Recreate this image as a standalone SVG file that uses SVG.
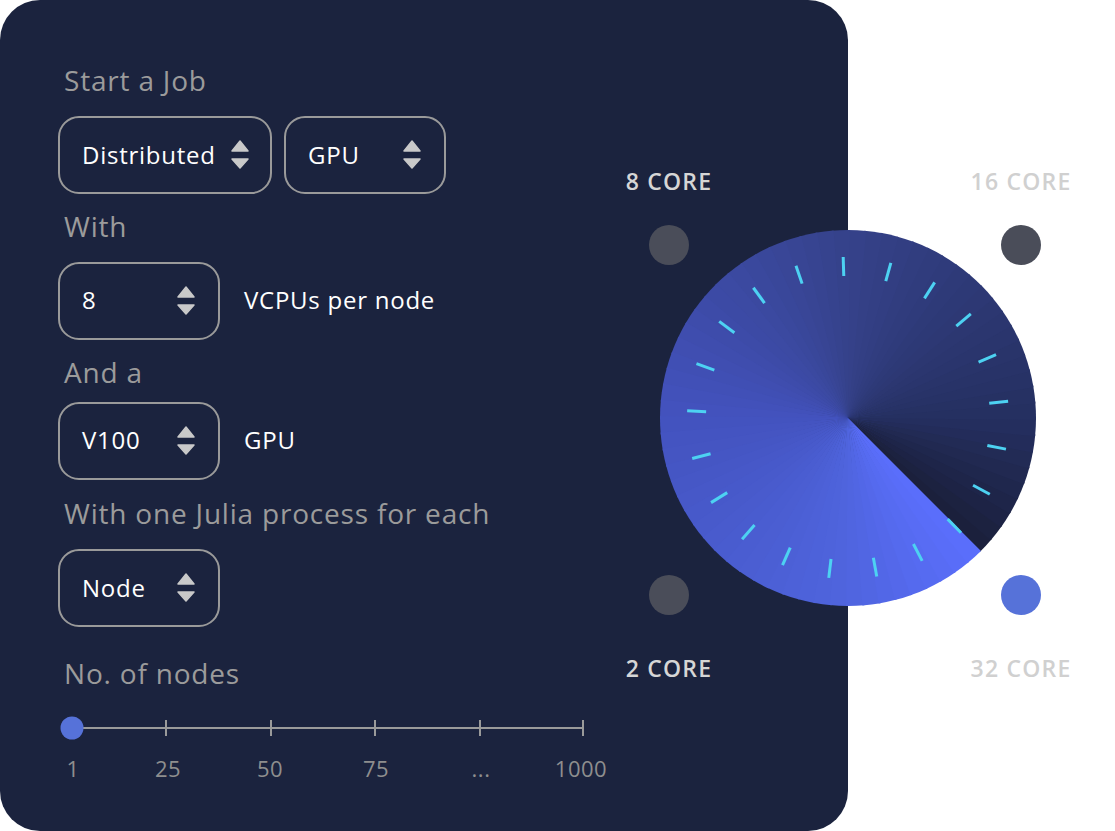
<svg xmlns="http://www.w3.org/2000/svg" xmlns:xlink="http://www.w3.org/1999/xlink" width="1115" height="831" viewBox="0 0 1115 831">
<style>
  .lbl { font-family: "Open Sans", "Noto Sans", sans-serif; font-size: 28px; fill: #9b9b9b; letter-spacing: 0.8px; }
  .val { font-family: "Open Sans", "Noto Sans", sans-serif; font-size: 24px; fill: #ffffff; letter-spacing: 0.75px; }
  .box { fill: none; stroke: #9a9a9a; stroke-width: 2; }
  .arr { fill: #c9c9c9; stroke: #c9c9c9; stroke-width: 1.5; stroke-linejoin: round; }
  .core { font-family: "Open Sans", "Noto Sans", sans-serif; font-size: 23px; font-weight: 600; text-anchor: middle; letter-spacing: 1.2px; }
  .num { font-family: "Open Sans", "Noto Sans", sans-serif; font-size: 22px; fill: #8e8e8e; text-anchor: middle; letter-spacing: 0.5px; }
  .tk { stroke: #9a9a9a; stroke-width: 2; }
</style>
<defs>
  <path id="w" d="M848 418 L1036 418 A188 188 0 0 1 1035.10 436.35 Z"/>
  <line id="tick" x1="990" y1="418" x2="1009" y2="418" stroke="#4dd2f2" stroke-width="3"/>
  <g id="spin">
    <path class="arr" d="M-8 -4 L8 -4 L0 -14 Z"/>
    <path class="arr" d="M-8 4 L8 4 L0 13 Z"/>
  </g>
</defs>
<rect x="0" y="0" width="1115" height="831" fill="#ffffff"/>
<g id="panel">
  <rect x="0" y="0" width="848" height="831" rx="40" ry="40" fill="#1b233e"/>
</g>

<g id="label-start"><text class="lbl" x="64" y="91">Start a Job</text></g>
<g id="select-mode">
  <rect class="box" x="59" y="117" width="212" height="76" rx="20"/>
  <text class="val" x="82" y="164">Distributed</text>
  <use xlink:href="#spin" transform="translate(240 155)"/>
</g>
<g id="select-type">
  <rect class="box" x="285" y="117" width="160" height="76" rx="20"/>
  <text class="val" x="308" y="164">GPU</text>
  <use xlink:href="#spin" transform="translate(412 155)"/>
</g>
<g id="label-with"><text class="lbl" x="64" y="237">With</text></g>
<g id="select-vcpu">
  <rect class="box" x="59" y="263" width="160" height="76" rx="20"/>
  <text class="val" x="82" y="309">8</text>
  <use xlink:href="#spin" transform="translate(186 301)"/>
  <text class="val" x="244" y="309">VCPUs per node</text>
</g>
<g id="label-and"><text class="lbl" x="64" y="383">And a</text></g>
<g id="select-gpu">
  <rect class="box" x="59" y="403" width="160" height="76" rx="20"/>
  <text class="val" x="82" y="449">V100</text>
  <use xlink:href="#spin" transform="translate(186 441)"/>
  <text class="val" x="244" y="449">GPU</text>
</g>
<g id="label-process"><text class="lbl" x="64" y="524">With one Julia process for each</text></g>
<g id="select-process">
  <rect class="box" x="59" y="550" width="160" height="76" rx="20"/>
  <text class="val" x="82" y="597">Node</text>
  <use xlink:href="#spin" transform="translate(186 588)"/>
</g>
<g id="label-nodes"><text class="lbl" x="64" y="684">No. of nodes</text></g>
<g id="slider">
  <line class="tk" x1="72" y1="728" x2="583" y2="728"/>
  <line class="tk" x1="166" y1="720" x2="166" y2="736"/>
  <line class="tk" x1="271" y1="720" x2="271" y2="736"/>
  <line class="tk" x1="375" y1="720" x2="375" y2="736"/>
  <line class="tk" x1="480" y1="720" x2="480" y2="736"/>
  <line class="tk" x1="583" y1="720" x2="583" y2="736"/>
  <circle cx="72" cy="728" r="11.5" fill="#5672d9"/>
  <text class="num" x="73" y="777">1</text>
  <text class="num" x="168" y="777">25</text>
  <text class="num" x="270" y="777">50</text>
  <text class="num" x="376" y="777">75</text>
  <text class="num" x="481" y="777">...</text>
  <text class="num" x="581" y="777">1000</text>
</g>

<g id="dial">
  <circle cx="848" cy="418" r="186" fill="rgb(52,64,135)"/>
  <use xlink:href="#w" fill="rgb(27,32,60)" transform="rotate(400 848 418)"/>
  <use xlink:href="#w" fill="rgb(28,34,64)" transform="rotate(395 848 418)"/>
  <use xlink:href="#w" fill="rgb(29,35,69)" transform="rotate(390 848 418)"/>
  <use xlink:href="#w" fill="rgb(30,37,73)" transform="rotate(385 848 418)"/>
  <use xlink:href="#w" fill="rgb(31,39,77)" transform="rotate(380 848 418)"/>
  <use xlink:href="#w" fill="rgb(33,41,81)" transform="rotate(375 848 418)"/>
  <use xlink:href="#w" fill="rgb(34,43,85)" transform="rotate(370 848 418)"/>
  <use xlink:href="#w" fill="rgb(35,44,90)" transform="rotate(365 848 418)"/>
  <use xlink:href="#w" fill="rgb(36,46,94)" transform="rotate(360 848 418)"/>
  <use xlink:href="#w" fill="rgb(37,48,97)" transform="rotate(355 848 418)"/>
  <use xlink:href="#w" fill="rgb(38,49,99)" transform="rotate(350 848 418)"/>
  <use xlink:href="#w" fill="rgb(39,50,102)" transform="rotate(345 848 418)"/>
  <use xlink:href="#w" fill="rgb(40,51,104)" transform="rotate(340 848 418)"/>
  <use xlink:href="#w" fill="rgb(41,52,106)" transform="rotate(335 848 418)"/>
  <use xlink:href="#w" fill="rgb(42,53,109)" transform="rotate(330 848 418)"/>
  <use xlink:href="#w" fill="rgb(43,54,111)" transform="rotate(325 848 418)"/>
  <use xlink:href="#w" fill="rgb(44,55,113)" transform="rotate(320 848 418)"/>
  <use xlink:href="#w" fill="rgb(45,56,116)" transform="rotate(315 848 418)"/>
  <use xlink:href="#w" fill="rgb(45,57,118)" transform="rotate(310 848 418)"/>
  <use xlink:href="#w" fill="rgb(46,58,120)" transform="rotate(305 848 418)"/>
  <use xlink:href="#w" fill="rgb(47,59,123)" transform="rotate(300 848 418)"/>
  <use xlink:href="#w" fill="rgb(48,60,125)" transform="rotate(295 848 418)"/>
  <use xlink:href="#w" fill="rgb(49,61,127)" transform="rotate(290 848 418)"/>
  <use xlink:href="#w" fill="rgb(50,62,130)" transform="rotate(285 848 418)"/>
  <use xlink:href="#w" fill="rgb(51,63,132)" transform="rotate(280 848 418)"/>
  <use xlink:href="#w" fill="rgb(52,64,134)" transform="rotate(275 848 418)"/>
  <use xlink:href="#w" fill="rgb(53,65,137)" transform="rotate(270 848 418)"/>
  <use xlink:href="#w" fill="rgb(53,66,139)" transform="rotate(265 848 418)"/>
  <use xlink:href="#w" fill="rgb(54,67,142)" transform="rotate(260 848 418)"/>
  <use xlink:href="#w" fill="rgb(55,68,145)" transform="rotate(255 848 418)"/>
  <use xlink:href="#w" fill="rgb(56,69,148)" transform="rotate(250 848 418)"/>
  <use xlink:href="#w" fill="rgb(57,70,151)" transform="rotate(245 848 418)"/>
  <use xlink:href="#w" fill="rgb(57,71,154)" transform="rotate(240 848 418)"/>
  <use xlink:href="#w" fill="rgb(58,72,157)" transform="rotate(235 848 418)"/>
  <use xlink:href="#w" fill="rgb(59,73,160)" transform="rotate(230 848 418)"/>
  <use xlink:href="#w" fill="rgb(60,74,163)" transform="rotate(225 848 418)"/>
  <use xlink:href="#w" fill="rgb(60,74,165)" transform="rotate(220 848 418)"/>
  <use xlink:href="#w" fill="rgb(61,75,168)" transform="rotate(215 848 418)"/>
  <use xlink:href="#w" fill="rgb(62,76,171)" transform="rotate(210 848 418)"/>
  <use xlink:href="#w" fill="rgb(63,77,174)" transform="rotate(205 848 418)"/>
  <use xlink:href="#w" fill="rgb(64,78,177)" transform="rotate(200 848 418)"/>
  <use xlink:href="#w" fill="rgb(64,79,180)" transform="rotate(195 848 418)"/>
  <use xlink:href="#w" fill="rgb(65,80,183)" transform="rotate(190 848 418)"/>
  <use xlink:href="#w" fill="rgb(66,81,186)" transform="rotate(185 848 418)"/>
  <use xlink:href="#w" fill="rgb(67,82,189)" transform="rotate(180 848 418)"/>
  <use xlink:href="#w" fill="rgb(67,83,191)" transform="rotate(175 848 418)"/>
  <use xlink:href="#w" fill="rgb(68,84,193)" transform="rotate(170 848 418)"/>
  <use xlink:href="#w" fill="rgb(69,85,194)" transform="rotate(165 848 418)"/>
  <use xlink:href="#w" fill="rgb(69,86,196)" transform="rotate(160 848 418)"/>
  <use xlink:href="#w" fill="rgb(70,87,198)" transform="rotate(155 848 418)"/>
  <use xlink:href="#w" fill="rgb(71,88,200)" transform="rotate(150 848 418)"/>
  <use xlink:href="#w" fill="rgb(71,89,202)" transform="rotate(145 848 418)"/>
  <use xlink:href="#w" fill="rgb(72,90,203)" transform="rotate(140 848 418)"/>
  <use xlink:href="#w" fill="rgb(73,91,205)" transform="rotate(135 848 418)"/>
  <use xlink:href="#w" fill="rgb(73,92,207)" transform="rotate(130 848 418)"/>
  <use xlink:href="#w" fill="rgb(74,93,209)" transform="rotate(125 848 418)"/>
  <use xlink:href="#w" fill="rgb(75,94,210)" transform="rotate(120 848 418)"/>
  <use xlink:href="#w" fill="rgb(75,95,212)" transform="rotate(115 848 418)"/>
  <use xlink:href="#w" fill="rgb(76,96,214)" transform="rotate(110 848 418)"/>
  <use xlink:href="#w" fill="rgb(77,97,216)" transform="rotate(105 848 418)"/>
  <use xlink:href="#w" fill="rgb(77,98,218)" transform="rotate(100 848 418)"/>
  <use xlink:href="#w" fill="rgb(78,99,219)" transform="rotate(95 848 418)"/>
  <use xlink:href="#w" fill="rgb(79,100,221)" transform="rotate(90 848 418)"/>
  <use xlink:href="#w" fill="rgb(80,101,224)" transform="rotate(85 848 418)"/>
  <use xlink:href="#w" fill="rgb(81,102,227)" transform="rotate(80 848 418)"/>
  <use xlink:href="#w" fill="rgb(82,103,231)" transform="rotate(75 848 418)"/>
  <use xlink:href="#w" fill="rgb(84,104,234)" transform="rotate(70 848 418)"/>
  <use xlink:href="#w" fill="rgb(85,106,238)" transform="rotate(65 848 418)"/>
  <use xlink:href="#w" fill="rgb(86,107,241)" transform="rotate(60 848 418)"/>
  <use xlink:href="#w" fill="rgb(88,108,244)" transform="rotate(55 848 418)"/>
  <use xlink:href="#w" fill="rgb(89,109,248)" transform="rotate(50 848 418)"/>
  <use xlink:href="#w" fill="rgb(90,110,251)" transform="rotate(45 848 418)"/>
  <g id="ticks">
    <use xlink:href="#tick" transform="rotate(-91.71 848 418)"/>
    <use xlink:href="#tick" transform="rotate(-74.57 848 418)"/>
    <use xlink:href="#tick" transform="rotate(-57.43 848 418)"/>
    <use xlink:href="#tick" transform="rotate(-40.29 848 418)"/>
    <use xlink:href="#tick" transform="rotate(-23.14 848 418)"/>
    <use xlink:href="#tick" transform="rotate(-6 848 418)"/>
    <use xlink:href="#tick" transform="rotate(11.14 848 418)"/>
    <use xlink:href="#tick" transform="rotate(28.29 848 418)"/>
    <use xlink:href="#tick" transform="rotate(45.43 848 418)"/>
    <use xlink:href="#tick" transform="rotate(62.57 848 418)"/>
    <use xlink:href="#tick" transform="rotate(79.71 848 418)"/>
    <use xlink:href="#tick" transform="rotate(96.86 848 418)"/>
    <use xlink:href="#tick" transform="rotate(114 848 418)"/>
    <use xlink:href="#tick" transform="rotate(131.14 848 418)"/>
    <use xlink:href="#tick" transform="rotate(148.29 848 418)"/>
    <use xlink:href="#tick" transform="rotate(165.43 848 418)"/>
    <use xlink:href="#tick" transform="rotate(182.57 848 418)"/>
    <use xlink:href="#tick" transform="rotate(199.71 848 418)"/>
    <use xlink:href="#tick" transform="rotate(216.86 848 418)"/>
    <use xlink:href="#tick" transform="rotate(234 848 418)"/>
    <use xlink:href="#tick" transform="rotate(251.14 848 418)"/>
  </g>
</g>

<g id="core-8">
  <text class="core" x="669" y="190" fill="#d6d6d6">8 CORE</text>
  <circle cx="669" cy="245" r="20" fill="#4a4d59"/>
</g>
<g id="core-16">
  <text class="core" x="1021" y="190" fill="#d0d0d0">16 CORE</text>
  <circle cx="1021" cy="245" r="20" fill="#4a4d59"/>
</g>
<g id="core-2">
  <circle cx="669" cy="595" r="20" fill="#4a4d59"/>
  <text class="core" x="669" y="677" fill="#d6d6d6">2 CORE</text>
</g>
<g id="core-32">
  <circle cx="1021" cy="595" r="20" fill="#5672d9"/>
  <text class="core" x="1021" y="677" fill="#d0d0d0">32 CORE</text>
</g>
</svg>
